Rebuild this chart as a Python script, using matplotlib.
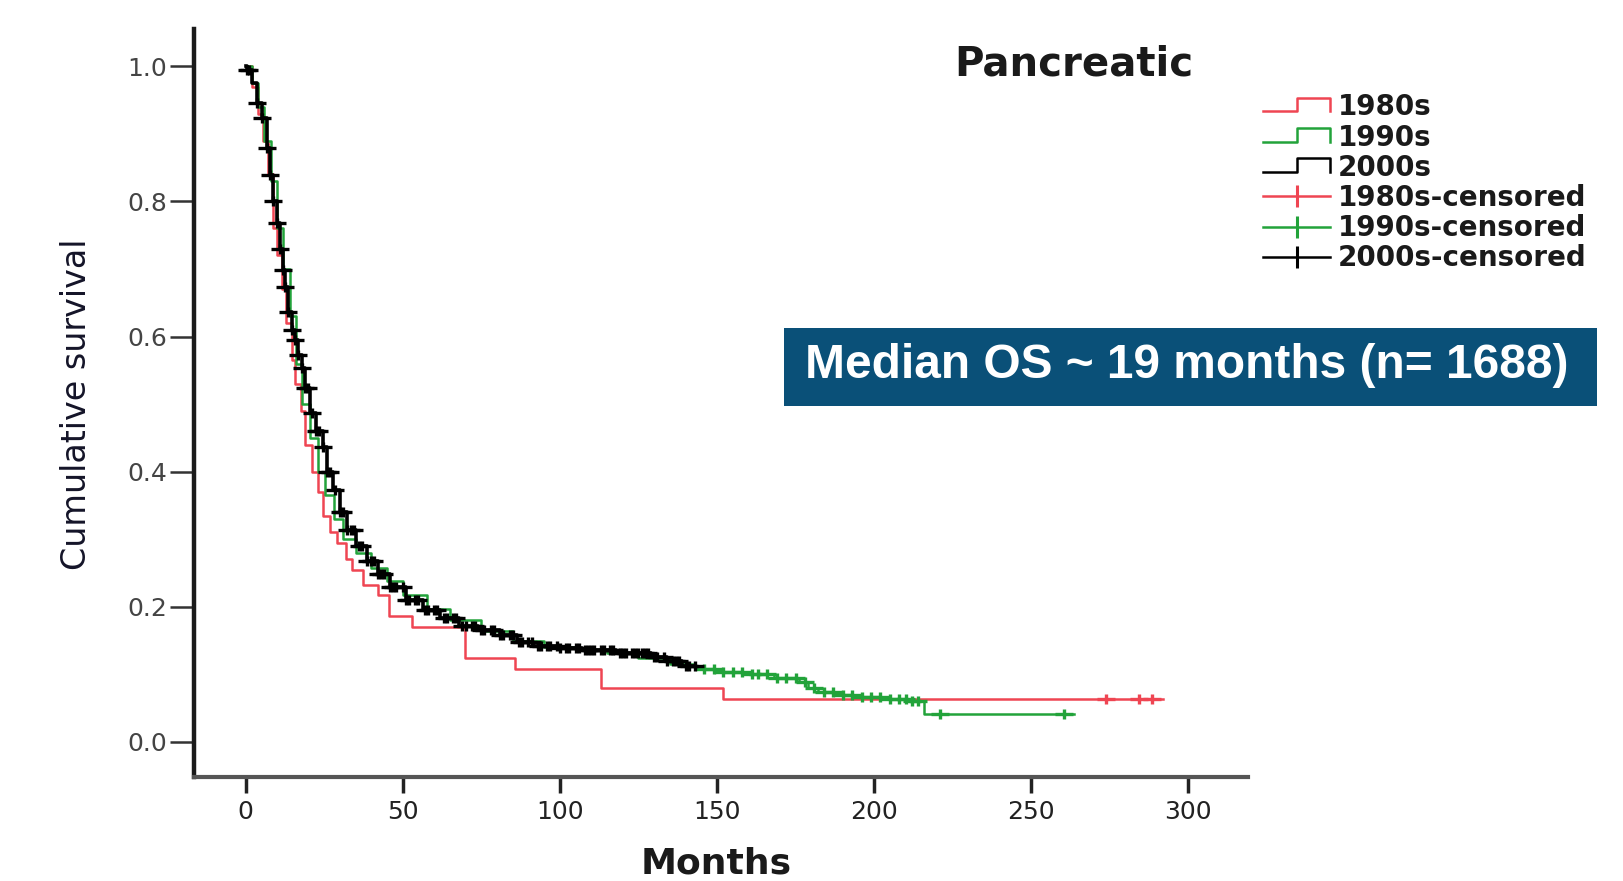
import numpy as np
import matplotlib
matplotlib.use('Agg')
import matplotlib.pyplot as plt
from matplotlib.lines import Line2D
from matplotlib.path import Path
from matplotlib.patches import Rectangle
from matplotlib.legend_handler import HandlerBase

# Kaplan-Meier steps (months, cumulative survival)
t_1980 = [0, 2, 4, 5.6, 7, 8.8, 10, 11.5, 13, 14.8, 15.8, 17.5, 19, 21, 23, 24.7, 27, 29, 32, 34,
          37.4, 42.2, 45.5, 53, 69.9, 85.8, 113, 152]
s_1980 = [1.0, .97, .93, .89, .84, .76, .72, .67, .62, .565, .53, .49, .44, .40, .37, .335, .31, .295, .27, .255,
          .232, .217, .187, .17, .124, .108, .080, .064]
end_1980 = 292
cens_1980 = [273.7, 284.3, 288.4]

t_1990 = [0, 2, 4, 6, 8, 10, 12, 14, 16, 18, 20.5, 23, 25.3, 28, 31, 35, 40, 45, 50, 57.8, 65, 75, 85,
          95, 105, 115, 125, 135, 143, 150, 160, 168, 176, 179, 182, 190, 196, 205, 212, 216]
s_1990 = [1.0, .975, .94, .89, .83, .76, .70, .63, .56, .50, .45, .40, .365, .33, .30, .28, .258, .238, .218, .197, .18, .164, .150,
          .141, .136, .131, .124, .116, .108, .104, .100, .095, .089, .080, .074, .069, .066, .063, .061, .042]
end_1990 = 263.5
cens_1990 = [146, 149, 152, 155, 158, 161, 163, 166, 169, 172, 175, 178, 181, 184, 187, 190, 193, 196, 199,
             202, 205, 208, 210, 212, 214, 221, 260.4]

t_2000 = [0, 0.5, 2, 3.6, 5.3, 6.8, 7.8, 8.8, 10, 11, 11.9, 12.6, 13.5, 14.8, 15.8, 16.7, 18, 19, 20.5,
          22.4, 24.7, 26, 27.9, 30, 32.3, 35, 38.7, 42, 46, 51, 56.5, 62, 68, 74, 81, 86.5, 91.6, 100,
          107, 118, 129, 134, 139]
s_2000 = [1.0, .995, .975, .945, .923, .879, .839, .80, .768, .729, .698, .673, .636, .61, .595, .573, .553, .524, .487,
          .46, .436, .40, .373, .34, .314, .29, .268, .248, .229, .21, .195, .184, .172, .165, .158, .148, .142, .139,
          .136, .131, .125, .12, .112]
end_2000 = 143
cens_2000 = [0.5, 1.2, 3.6, 5.3, 6.8, 7.8, 8.8, 10, 11, 11.9, 12.6, 13.5, 14.8, 15.8, 16.7, 18, 19, 20, 21,
             22.4, 23.5, 24.7, 26, 27, 28.5, 30, 31, 32.3, 33.5, 34.5, 36, 37, 38.7, 40, 41, 42, 43, 44, 46,
             47, 48, 50, 51, 52, 54, 55, 57, 58, 60, 61, 63, 64, 66, 67, 69, 70, 72, 73, 75, 76, 78, 79, 81,
             82, 84, 85, 87, 88, 90, 91, 93, 94, 96, 97, 99, 100, 102, 103, 105, 106, 108, 109, 110, 111,
             113, 114, 116, 117, 119, 120, 121, 123, 124, 125, 126, 127, 128, 130, 131, 133, 134, 136, 137,
             138, 140, 141, 143]

labels = ['1980s', '1990s', '2000s', '1980s-censored', '1990s-censored', '2000s-censored']
RED, GREEN, BLACK = '#ef4552', '#22a33a', '#000000'

# wide, flat cross used by the censor marks
cross = Path([(-1, 0), (1, 0), (0, -0.6), (0, 0.6)],
             [Path.MOVETO, Path.LINETO, Path.MOVETO, Path.LINETO])


def km_at(t, s, x):
    idx = np.searchsorted(np.asarray(t), np.asarray(x), side='right') - 1
    return np.asarray(s)[idx]


class StepHandler(HandlerBase):
    def create_artists(self, legend, orig_handle, xdescent, ydescent, width, height, fontsize, trans):
        x0 = -xdescent
        lo = -ydescent + 0.2 * height
        hi = -ydescent + 0.9 * height
        xs = [x0, x0 + 0.5 * width, x0 + 0.5 * width, x0 + width, x0 + width]
        ys = [lo, lo, hi, hi, lo]
        ln = Line2D(xs, ys, color=orig_handle.get_color(), lw=orig_handle.get_linewidth())
        ln.set_transform(trans)
        return [ln]


fig = plt.figure(figsize=(16.24, 8.81), dpi=100)
ax = fig.add_axes([0.1193, 0.118, 0.6492, 0.849])

series = [(t_1980, s_1980, end_1980, cens_1980, RED, 1.8),
          (t_1990, s_1990, end_1990, cens_1990, GREEN, 1.8),
          (t_2000, s_2000, end_2000, cens_2000, BLACK, 2.6)]
for i, (t, s, end, cens, col, lw) in enumerate(series):
    ax.step(list(t) + [end], list(s) + [s[-1]], where='post', color=col, lw=lw, zorder=2 + i)
    ax.plot(cens, km_at(t, s, cens), linestyle='none', marker=cross, markersize=13,
            markeredgewidth=2.4, color=col, zorder=2 + i)

ax.set_xlim(-16.5, 319)
ax.set_ylim(-0.052, 1.055)
ax.set_xticks([0, 50, 100, 150, 200, 250, 300])
ax.set_yticks([0.0, 0.2, 0.4, 0.6, 0.8, 1.0])
ax.yaxis.set_major_formatter(matplotlib.ticker.FormatStrFormatter('%.1f'))
for side in ['top', 'right']:
    ax.spines[side].set_visible(False)
ax.spines['left'].set_linewidth(3.2)
ax.spines['left'].set_color('#1a1a1a')
ax.spines['bottom'].set_linewidth(3)
ax.spines['bottom'].set_color('#555555')
ax.tick_params(axis='y', length=17, width=1.8, pad=2, labelsize=18, labelcolor='#444444', color='#333333')
ax.tick_params(axis='x', length=11.5, width=2.5, pad=5, labelsize=18, labelcolor='#222222', color='#222222')

fig.text(77 / 1624, 1 - 404 / 881, 'Cumulative survival', rotation=90, ha='center', va='center',
         fontsize=24, color='#141428')
fig.text(716 / 1624, 1 - 864 / 881, 'Months', ha='center', va='center', fontsize=26,
         fontweight='bold', color='#1a1a1a')
fig.text(1074 / 1624, 1 - 64 / 881, 'Pancreatic', ha='center', va='center', fontsize=29,
         fontweight='bold', color='#1a1a1a')

steps = [Line2D([], [], color=c, lw=1.8) for c in (RED, GREEN, BLACK)]
marks = [Line2D([], [], color=c, lw=1.8, marker='|', markersize=16, markeredgewidth=2.2)
         for c in (RED, GREEN, BLACK)]
leg = fig.legend(steps + marks, labels, loc='upper left', bbox_to_anchor=(0.7777, 0.894),
                 frameon=False, prop={'size': 20, 'weight': 'bold'}, labelspacing=0.08,
                 handlelength=2.42, handletextpad=0.26,
                 borderpad=0, borderaxespad=0, handler_map={h: StepHandler() for h in steps})
for txt in leg.get_texts():
    txt.set_color('#1a1a1a')

fig.patches.append(Rectangle((784 / 1624, 1 - 406 / 881), 813 / 1624, 78 / 881,
                             transform=fig.transFigure, facecolor='#0a5078', edgecolor='none'))
fig.text(1187 / 1624, 1 - 366 / 881, 'Median OS ~ 19 months (n= 1688)', ha='center', va='center',
         fontsize=34.5, fontweight='bold', color='white', family='Liberation Sans')

fig.savefig('out.png', dpi=100)
